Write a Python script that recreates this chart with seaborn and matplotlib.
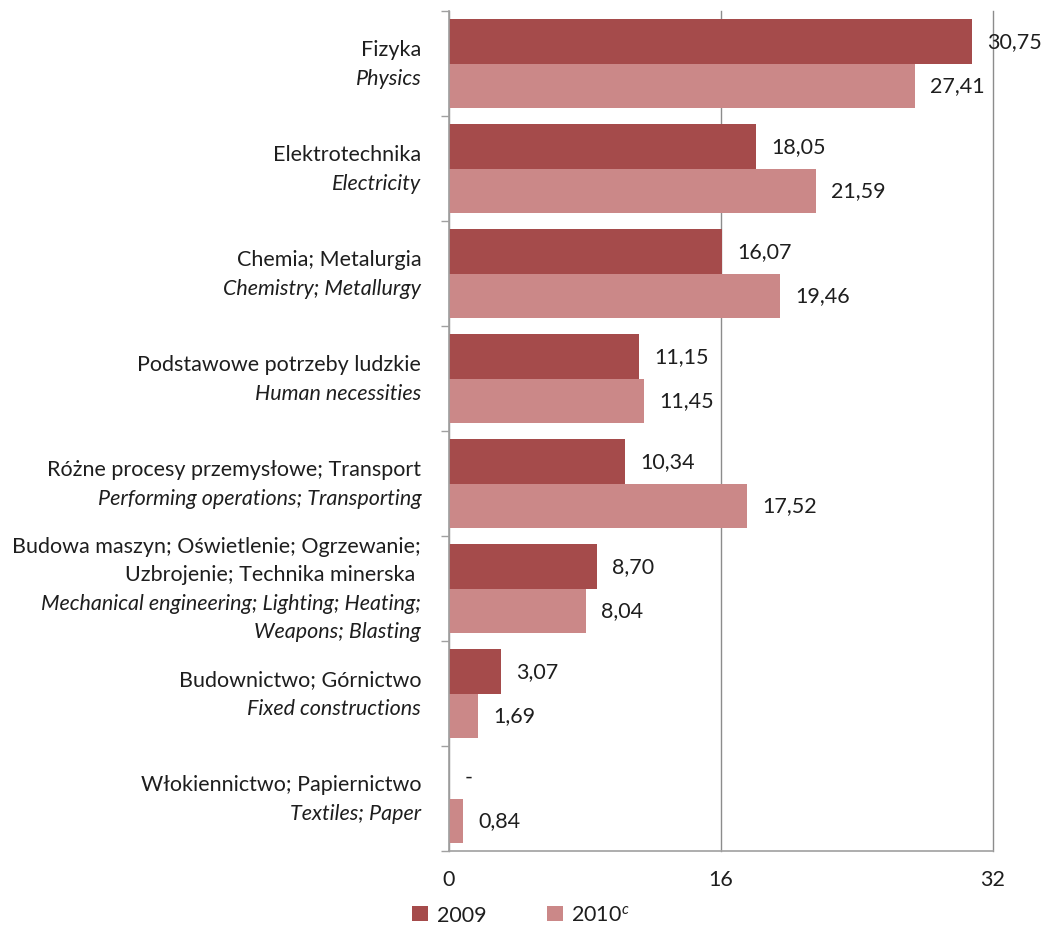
import matplotlib
matplotlib.use("Agg")
import matplotlib.pyplot as plt
import matplotlib.transforms as mtransforms
from matplotlib.patches import Patch
import pandas as pd
import seaborn as sns

# category labels: Polish (regular) and English (italic), may span several lines
categories_pl = [
    ["Fizyka"],
    ["Elektrotechnika"],
    ["Chemia; Metalurgia"],
    ["Podstawowe potrzeby ludzkie"],
    ["Różne procesy przemysłowe; Transport"],
    ["Budowa maszyn; Oświetlenie; Ogrzewanie;", "Uzbrojenie; Technika minerska "],
    ["Budownictwo; Górnictwo"],
    ["Włokiennictwo; Papiernictwo"],
]
categories_en = [
    ["Physics"],
    ["Electricity"],
    ["Chemistry; Metallurgy"],
    ["Human necessities"],
    ["Performing operations; Transporting"],
    ["Mechanical engineering; Lighting; Heating;", "Weapons; Blasting"],
    ["Fixed constructions"],
    ["Textiles; Paper"],
]
values_2009 = [30.75, 18.05, 16.07, 11.15, 10.34, 8.70, 3.07, 0.0]
values_2010 = [27.41, 21.59, 19.46, 11.45, 17.52, 8.04, 1.69, 0.84]
labels_2009 = ["30,75", "18,05", "16,07", "11,15", "10,34", "8,70", "3,07", "-"]
labels_2010 = ["27,41", "21,59", "19,46", "11,45", "17,52", "8,04", "1,69", "0,84"]
series_names = ["2009", "2010"]
legend_labels = ["2009", "2010$^{c}$"]
x_ticks = [0, 16, 32]

colors = ["#A54B4B", "#CB8888"]
text_color = "#1e1e1e"
fs = 15.5

plt.rcParams["font.family"] = ["Lato", "DejaVu Sans"]
plt.rcParams["mathtext.fontset"] = "custom"
plt.rcParams["mathtext.rm"] = "Lato"
plt.rcParams["mathtext.it"] = "Lato:italic"

n = len(categories_pl)
keys = [str(i) for i in range(n)]
df = pd.DataFrame({
    "cat": keys * 2,
    "year": [series_names[0]] * n + [series_names[1]] * n,
    "value": values_2009 + values_2010,
})

fig = plt.figure(figsize=(10.42, 9.28), dpi=100)
ax = fig.add_axes([449 / 1042, 76 / 928, 544 / 1042, 840 / 928])

sns.barplot(data=df, x="value", y="cat", hue="year", order=keys,
            hue_order=series_names, palette=colors, orient="h",
            width=0.84, saturation=1, legend=False, ax=ax)

ax.bar_label(ax.containers[0], labels=labels_2009, padding=11,
             fontsize=fs, color=text_color)
ax.bar_label(ax.containers[1], labels=labels_2010, padding=11,
             fontsize=fs, color=text_color)

ax.set_xlim(0, 32)
ax.set_ylim(n - 0.5, -0.5)
ax.set_xticks(x_ticks)
ax.set_xticklabels([str(t) for t in x_ticks], fontsize=fs, color=text_color)
ax.tick_params(axis="x", length=0, pad=13)
ax.set_yticks([])
ax.set_yticks([i - 0.5 for i in range(n + 1)], minor=True)
ax.tick_params(axis="y", which="minor", length=6, color="#a0a0a0", width=1)
ax.set_xlabel("")
ax.set_ylabel("")

ax.xaxis.grid(True, color="#8c8c8c", linewidth=1)
for gl in ax.get_xgridlines():
    gl.set_clip_on(False)
ax.set_axisbelow(True)
for s in ["top", "right"]:
    ax.spines[s].set_visible(False)
for s in ["left", "bottom"]:
    ax.spines[s].set_color("#a0a0a0")
    ax.spines[s].set_linewidth(1.2)

# category labels to the left of the axis
trans = mtransforms.offset_copy(ax.get_yaxis_transform(), fig=fig, x=-20, y=0, units="points")
line_step = 20.5  # points
for i in range(n):
    lines = [(t, "normal") for t in categories_pl[i]] + [(t, "italic") for t in categories_en[i]]
    m = len(lines)
    for j, (txt, style) in enumerate(lines):
        off = (j - (m - 1) / 2) * line_step
        tr = mtransforms.offset_copy(trans, fig=fig, x=0, y=-off, units="points")
        ax.text(0, i, txt, transform=tr, ha="right", va="center",
                fontsize=fs, style=style, color=text_color)

handles = [Patch(facecolor=c, edgecolor="none") for c in colors]
fig.legend(handles, legend_labels, loc="center", bbox_to_anchor=(0.5, 12 / 928),
           ncol=2, frameon=False, fontsize=fs, handlelength=0.75, handleheight=0.75,
           handletextpad=0.4, columnspacing=2.8, labelcolor=text_color)

fig.savefig("out.png", dpi=100)
